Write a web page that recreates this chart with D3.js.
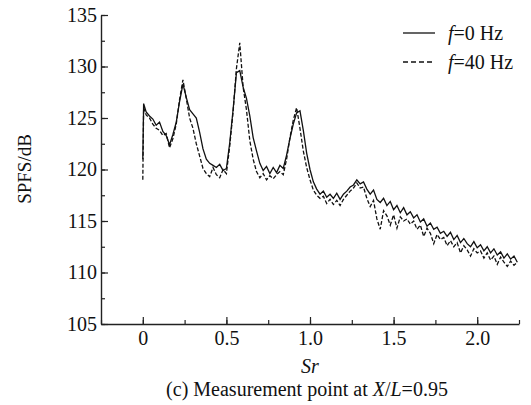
<!DOCTYPE html>
<html lang="en">
<head>
  <meta charset="utf-8">
  <title>SPFS spectrum</title>
  <script type="text/javascript" src="https://d3js.org/d3.v7.min.js"></script>
  <style>
    body { margin: 0; background: #fff; }
  </style>
</head>
<body>
  <script type="text/javascript">
    var w = 531;
    var h = 405;
    var serif = "'Liberation Serif', 'DejaVu Serif', serif";

    // Strouhal number grid (spike at Sr=0, then every 0.02)
    var sr = [0, 0.005].concat(d3.range(1, 113).map(function(i) { return i * 0.02; }));

    // f = 0 Hz (solid)
    var spfs0 = [121.0, 126.4,
      125.6, 125.2, 124.9, 124.3, 124.6, 123.7, 123.3, 122.4, 123.4, 124.6,
      126.6, 128.3, 127.0, 125.8, 125.4, 125.0, 123.6, 122.0, 121.0, 120.6,
      120.4, 120.2, 120.5, 119.9, 120.1, 122.6, 125.8, 129.4, 129.6, 128.0,
      126.9, 125.2, 123.1, 121.8, 120.6, 119.9, 120.3, 119.6, 120.2, 119.7,
      120.4, 120.1, 121.4, 123.0, 124.4, 125.5, 125.7, 123.8, 121.6, 120.0,
      118.8, 118.1, 117.6, 117.9, 117.3, 117.6, 117.2, 117.7, 117.1, 117.6,
      117.9, 118.3, 118.5, 119.0, 118.6, 118.8, 118.1, 117.6, 118.0, 117.1,
      116.8, 117.2, 116.5, 116.9, 116.1, 116.5, 115.8, 116.3, 115.6, 115.9,
      115.3, 115.6, 114.9, 115.2, 114.5, 114.8, 114.2, 114.4, 113.8, 114.0,
      113.5, 113.9, 113.2, 113.6, 112.9, 113.3, 112.8, 112.5, 113.0, 112.4,
      112.7, 112.1, 112.5, 111.9, 112.3, 111.7, 112.0, 111.4, 111.8, 111.3,
      111.6, 111.0];

    // f = 40 Hz (dashed)
    var spfs40 = [119.0, 126.0,
      125.3, 125.0, 124.4, 124.0, 123.8, 123.3, 123.5, 122.1, 123.0, 124.4,
      126.8, 128.7, 126.9, 125.0, 124.0, 122.5, 121.3, 120.1, 119.6, 119.3,
      120.2, 119.5, 119.2, 120.0, 119.6, 122.3, 125.6, 129.8, 132.3, 128.0,
      125.8, 122.8, 121.0, 119.8, 119.2, 119.6, 119.0, 119.4, 119.1, 119.5,
      119.8, 119.5, 121.0, 123.1, 124.8, 126.0, 124.0, 121.8, 120.2, 119.0,
      118.0, 117.5, 117.2, 117.4, 116.7, 117.1, 116.6, 117.0, 116.5, 117.1,
      117.5, 117.9, 118.2, 118.7, 118.2, 118.3, 117.2, 116.4, 117.0, 115.2,
      114.2, 116.0, 115.5, 114.6, 115.6, 114.3, 115.4, 115.0, 115.2, 114.7,
      115.0, 114.2, 114.6, 113.5, 114.3, 113.8, 112.8, 113.7, 113.2, 113.4,
      112.6, 113.1, 112.5, 112.9, 111.9, 112.6, 112.2, 111.6, 112.3, 111.9,
      112.1, 111.4, 111.9, 111.2, 111.6, 110.8, 111.5, 111.0, 110.6, 111.1,
      110.7, 111.0];

    var xTicks = [0, 0.5, 1.0, 1.5, 2.0];
    var xTickLabels = ["0", "0.5", "1.0", "1.5", "2.0"];
    var yTicks = [105, 110, 115, 120, 125, 130, 135];

    var svg = d3.select("body").append("svg")
      .attr("width", w)
      .attr("height", h);

    var x = d3.scaleLinear().domain([-0.25, 2.25]).range([101, 519]);
    var y = d3.scaleLinear().domain([105, 135]).range([324, 15]);

    // axes (ticks point inward)
    var xMinor = d3.range(-1, 10).map(function(i) { return i * 0.25; });
    var yMinor = d3.range(0, 13).map(function(i) { return 105 + i * 2.5; });

    svg.append("g")
      .attr("transform", "translate(0,324)")
      .call(d3.axisBottom(x).tickValues(xMinor).tickSize(-4).tickFormat(""))
      .call(function(g) { g.select(".domain").remove(); });

    var gx = svg.append("g")
      .attr("transform", "translate(0,324)")
      .call(d3.axisBottom(x).tickValues(xTicks).tickSize(-7).tickSizeOuter(0)
        .tickPadding(14)
        .tickFormat(function(d, i) { return xTickLabels[i]; }));

    svg.append("g")
      .attr("transform", "translate(101,0)")
      .call(d3.axisLeft(y).tickValues(yMinor).tickSize(-4).tickFormat(""))
      .call(function(g) { g.select(".domain").remove(); });

    var gy = svg.append("g")
      .attr("transform", "translate(101,0)")
      .call(d3.axisLeft(y).tickValues(yTicks).tickSize(-7).tickSizeOuter(0)
        .tickPadding(4));

    gx.attr("font-family", serif).attr("font-size", 20);
    gy.attr("font-family", serif).attr("font-size", 20);
    svg.selectAll(".tick line").attr("stroke", "#222").attr("stroke-width", 1.2);
    svg.selectAll(".domain").attr("stroke", "#222").attr("stroke-width", 1.4);
    svg.selectAll(".tick text")
      .style("font-family", serif)
      .attr("fill", "#111");
    gx.selectAll(".tick text").attr("dy", "0.35em");

    var line = function(vals) {
      return d3.line()
        .x(function(d, i) { return x(sr[i]); })
        .y(function(d) { return y(d); })(vals);
    };

    svg.append("path")
      .attr("d", line(spfs40))
      .attr("fill", "none")
      .attr("stroke", "#111")
      .attr("stroke-width", 1.3)
      .attr("stroke-dasharray", "4,2");

    svg.append("path")
      .attr("d", line(spfs0))
      .attr("fill", "none")
      .attr("stroke", "#111")
      .attr("stroke-width", 1.3);

    // legend
    var legend = [
      { label: "0 Hz", dash: null, y: 33 },
      { label: "40 Hz", dash: "5,3", y: 62 }
    ];
    legend.forEach(function(l) {
      svg.append("line")
        .attr("x1", 403).attr("x2", 435)
        .attr("y1", l.y).attr("y2", l.y)
        .attr("stroke", "#111").attr("stroke-width", 1.3)
        .attr("stroke-dasharray", l.dash);
      var t = svg.append("text")
        .attr("x", 448).attr("y", l.y + 7)
        .style("font-family", serif)
        .attr("fill", "#111")
        .attr("font-size", 20);
      t.append("tspan").attr("font-style", "italic").text("f");
      t.append("tspan").text("=" + l.label);
    });

    // axis titles
    svg.append("text")
      .attr("transform", "translate(31,169) rotate(-90)")
      .attr("text-anchor", "middle")
      .style("font-family", serif)
      .attr("fill", "#111")
      .attr("font-size", 19)
      .text("SPFS/dB");

    svg.append("text")
      .attr("x", 310).attr("y", 373)
      .attr("text-anchor", "middle")
      .style("font-family", serif)
      .attr("fill", "#111")
      .attr("font-size", 20)
      .attr("font-style", "italic")
      .text("Sr");

    var cap = svg.append("text")
      .attr("x", 307).attr("y", 396)
      .attr("text-anchor", "middle")
      .style("font-family", serif)
      .attr("fill", "#111")
      .attr("font-size", 20);
    cap.append("tspan").text("(c) Measurement point at ");
    cap.append("tspan").attr("font-style", "italic").text("X");
    cap.append("tspan").text("/");
    cap.append("tspan").attr("font-style", "italic").text("L");
    cap.append("tspan").text("=0.95");
  </script>
</body>
</html>
